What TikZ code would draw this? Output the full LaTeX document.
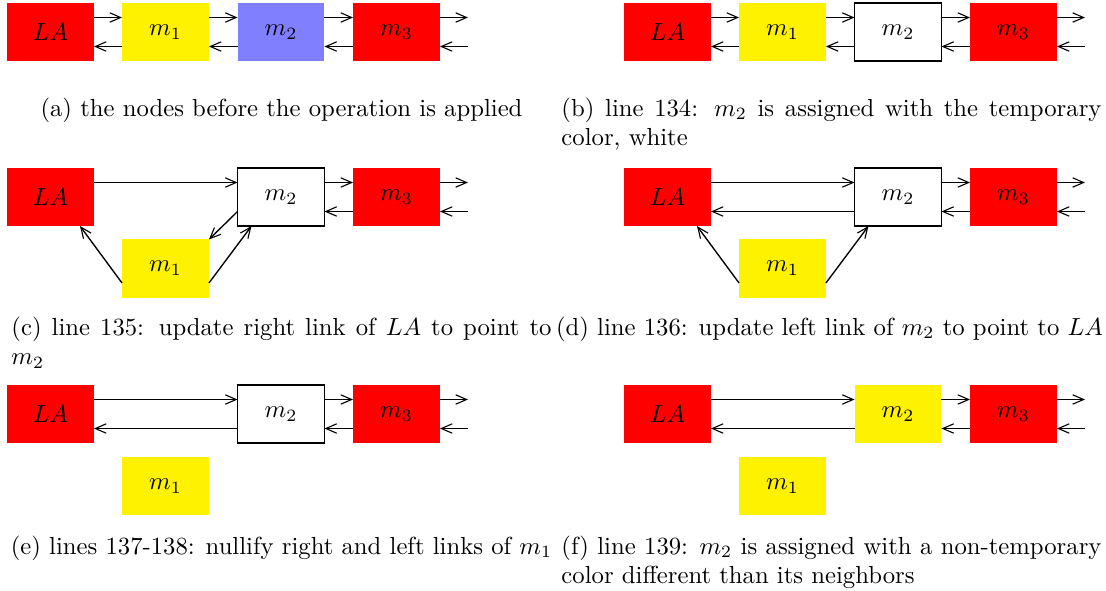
\documentclass[tikz,border=0pt]{standalone}
\usetikzlibrary{calc,arrows.meta}
% two opposite links between neighbouring cells
\newcommand\biLink[2]{%
  \draw[link] ($(#1.east)+(0,14.5)$) -- ($(#2.west)+(0,14.5)$);
  \draw[link] ($(#2.west)+(0,-14.5)$) -- ($(#1.east)+(0,-14.5)$);}
% links leaving the last cell towards the rest of the list
\newcommand\tailLink[1]{%
  \coordinate (#1-out) at ($(#1.east)+(28,14.5)$);
  \coordinate (#1-in) at ($(#1.east)+(28,-14.5)$);
  \draw[link] ($(#1.east)+(0,14.5)$) -- (#1-out);
  \draw[link] (#1-in) -- ($(#1.east)+(0,-14.5)$);}
\begin{document}
\begin{tikzpicture}[x=0.405pt,y=0.405pt,
  cell/.style={minimum width=35.2pt,minimum height=23.5pt,inner sep=0pt,outer sep=0pt},
  redcell/.style={cell,fill=red},
  yellowcell/.style={cell,fill=yellow},
  bluecell/.style={cell,fill=blue!50},
  whitecell/.style={cell,draw=black,line width=0.7pt,fill=white},
  link/.style={-{Straight Barb[length=4.4pt,width=3.8pt,line width=0.45pt]},line width=0.55pt},
  capwide/.style={text width=218.7pt,align=justify,inner sep=0pt,anchor=base west},
  capline/.style={inner sep=0pt,anchor=base}]
\useasboundingbox (0,0) rectangle (1106,-590);

% (a) initial list
\node[redcell]    (a-LA) at (50.5,-32)  {$LA$};
\node[yellowcell] (a-m1) at (165.5,-32) {$m_1$};
\node[bluecell]   (a-m2) at (281,-32)   {$m_2$};
\node[redcell]    (a-m3) at (396.5,-32) {$m_3$};
\biLink{a-LA}{a-m1}
\biLink{a-m1}{a-m2}
\biLink{a-m2}{a-m3}
\tailLink{a-m3}
\node[capline] (a-cap) at (281.5,-116) {(a) the nodes before the operation is applied};

% (b) m2 takes the temporary colour
\node[redcell]    (b-LA) at (667.5,-32)  {$LA$};
\node[yellowcell] (b-m1) at (782.5,-32)  {$m_1$};
\node[whitecell]  (b-m2) at (898,-32)    {$m_2$};
\node[redcell]    (b-m3) at (1013.5,-32) {$m_3$};
\biLink{b-LA}{b-m1}
\biLink{b-m1}{b-m2}
\biLink{b-m2}{b-m3}
\tailLink{b-m3}
\node[capwide] (b-cap) at (561,-116) {(b) line 134: $m_2$ is assigned with the temporary color, white};

% (c) right link of LA now points to m2
\node[redcell]    (c-LA) at (50.5,-197)   {$LA$};
\node[yellowcell] (c-m1) at (165.5,-268.5) {$m_1$};
\node[whitecell]  (c-m2) at (281,-197)    {$m_2$};
\node[redcell]    (c-m3) at (396.5,-197)  {$m_3$};
\draw[link] ($(c-LA.east)+(0,14.5)$) -- ($(c-m2.west)+(0,14.5)$);
\draw[link] ($(c-m1.west)+(0,-14.5)$) -- ($(c-LA.south)+(29.5,0)$);
\draw[link] ($(c-m1.east)+(0,-14.5)$) -- ($(c-m2.south)+(-29.5,0)$);
\draw[link] ($(c-m2.west)+(0,-14.5)$) -- (c-m1.north east);
\biLink{c-m2}{c-m3}
\tailLink{c-m3}
\node[capwide] (c-cap) at (11,-335) {(c) line 135: update right link of $LA$ to point to $m_2$};

% (d) left link of m2 now points to LA
\node[redcell]    (d-LA) at (667.5,-197)   {$LA$};
\node[yellowcell] (d-m1) at (782.5,-268.5) {$m_1$};
\node[whitecell]  (d-m2) at (898,-197)     {$m_2$};
\node[redcell]    (d-m3) at (1013.5,-197)  {$m_3$};
\biLink{d-LA}{d-m2}
\draw[link] ($(d-m1.west)+(0,-14.5)$) -- ($(d-LA.south)+(29.5,0)$);
\draw[link] ($(d-m1.east)+(0,-14.5)$) -- ($(d-m2.south)+(-29.5,0)$);
\biLink{d-m2}{d-m3}
\tailLink{d-m3}
\node[capline] (d-cap) at (829.5,-335) {(d) line 136: update left link of $m_2$ to point to $LA$};

% (e) links of m1 cleared
\node[redcell]    (e-LA) at (50.5,-414)  {$LA$};
\node[yellowcell] (e-m1) at (165.5,-486) {$m_1$};
\node[whitecell]  (e-m2) at (281,-414)   {$m_2$};
\node[redcell]    (e-m3) at (396.5,-414) {$m_3$};
\biLink{e-LA}{e-m2}
\biLink{e-m2}{e-m3}
\tailLink{e-m3}
\node[capline] (e-cap) at (281.5,-554) {(e) lines 137-138: nullify right and left links of $m_1$};

% (f) m2 gets a final colour
\node[redcell]    (f-LA) at (667.5,-414)  {$LA$};
\node[yellowcell] (f-m1) at (782.5,-486)  {$m_1$};
\node[yellowcell] (f-m2) at (898,-414)    {$m_2$};
\node[redcell]    (f-m3) at (1013.5,-414) {$m_3$};
\biLink{f-LA}{f-m2}
\biLink{f-m2}{f-m3}
\tailLink{f-m3}
\node[capwide] (f-cap) at (561,-554) {(f) line 139: $m_2$ is assigned with a non-temporary color different than its neighbors};
\end{tikzpicture}
\end{document}
